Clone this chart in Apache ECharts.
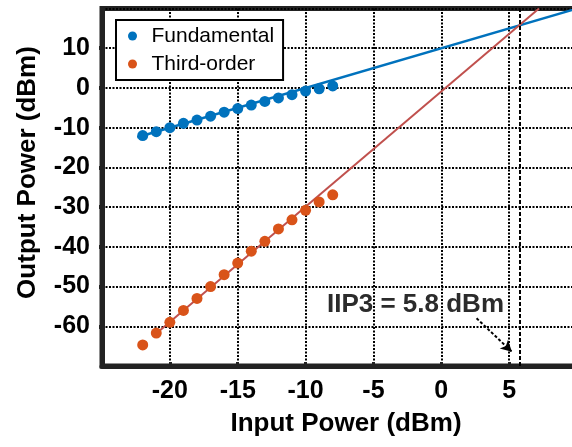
<!DOCTYPE html>
<html>
<head>
<meta charset="utf-8">
<script src="https://cdn.jsdelivr.net/npm/echarts@6/dist/echarts.min.js"></script>
<style>html,body{margin:0;padding:0;background:#fff}#c{width:572px;height:447px}</style>
</head>
<body>
<div id="c"></div>
<script>
var inputPower = [-22, -21, -20, -19, -18, -17, -16, -15, -14, -13, -12, -11, -10, -9, -8];
var fundamental = [-12.0, -11.0, -10.0, -8.9, -8.1, -7.1, -6.1, -5.2, -4.3, -3.4, -2.5, -1.7, -0.8, -0.2, 0.5];
var thirdOrder = [-64.7, -61.7, -59.0, -56.0, -53.0, -50.0, -47.0, -44.1, -41.1, -38.6, -35.5, -33.2, -30.8, -28.7, -26.9];
var fundFitX = [-22.4, 10];
var fundFitY = [-12.4, 20];
var thirdFitX = [-21, 7.2];
var thirdFitY = [-61.8, 20];
var iip3 = 5.8;
var arrowX = [2.6, 5.2];
var arrowY = [-58.0, -66.4];
var labelPos = [-1.9, -54.6];
var xTicks = [-25, -20, -15, -10, -5, 0, 5, 10];
var yTicks = [-70, -60, -50, -40, -30, -20, -10, 0, 10, 20];

function pairs(xs, ys) { return xs.map(function (x, i) { return [x, ys[i]]; }); }

var FONT = '"Liberation Sans", Arial, Helvetica, sans-serif';
var chart = echarts.init(document.getElementById('c'), null, {renderer: 'canvas'});
var option = {
  animation: false,
  backgroundColor: '#fff',
  grid: {left: 102, top: 8.5, right: -5, bottom: 81, show: true, outerBoundsMode: 'none', containLabel: false,
         borderColor: '#222', borderWidth: 5, backgroundColor: '#fff'},
  legend: {
    data: ['Fundamental', 'Third-order'],
    orient: 'vertical', left: 116, top: 20,
    icon: 'circle', itemWidth: 28, itemHeight: 9, itemGap: 6,
    padding: [5, 9, 5, 12],
    borderColor: '#000', borderWidth: 2, backgroundColor: '#fff',
    textStyle: {fontFamily: FONT, fontSize: 21, color: '#000', lineHeight: 22},
    selectedMode: false
  },
  xAxis: {
    type: 'value', min: xTicks[0], max: xTicks[xTicks.length - 1], interval: 5,
    axisLine: {show: true, onZero: false, lineStyle: {color: '#222', width: 5}},
    axisTick: {show: true, inside: true, length: 4, lineStyle: {color: '#222', width: 3}},
    axisLabel: {fontFamily: FONT, fontSize: 25, fontWeight: 'bold', color: '#000', margin: 13,
                showMinLabel: false, showMaxLabel: false},
    splitLine: {show: true, lineStyle: {color: '#000', width: 2, type: [2, 1.5]}}
  },
  yAxis: {
    type: 'value', min: yTicks[0], max: yTicks[yTicks.length - 1], interval: 10,
    axisLine: {show: true, onZero: false, lineStyle: {color: '#222', width: 5}},
    axisTick: {show: true, inside: false, length: 3, lineStyle: {color: '#222', width: 4}},
    axisLabel: {fontFamily: FONT, fontSize: 25, fontWeight: 'bold', color: '#000', margin: 12,
                showMinLabel: false, showMaxLabel: false},
    splitLine: {show: true, lineStyle: {color: '#000', width: 2, type: [2, 1.5]}}
  },
  graphic: [
    {type: 'text', x: 346, y: 424, z: 100,
     style: {text: 'Input Power (dBm)', fontFamily: FONT, fontSize: 26, fontWeight: 'bold', fill: '#000',
             textAlign: 'center', textVerticalAlign: 'middle'}},
    {type: 'text', x: 28, y: 172.5, rotation: Math.PI / 2, z: 100,
     style: {text: 'Output Power (dBm)', fontFamily: FONT, fontSize: 26, fontWeight: 'bold', fill: '#000',
             textAlign: 'center', textVerticalAlign: 'middle'}}
  ],
  series: [
    {
      name: 'fundFit', type: 'line', data: pairs(fundFitX, fundFitY), symbol: 'none', z: 2,
      lineStyle: {color: '#0072BD', width: 2.5}, clip: true, silent: true
    },
    {
      name: 'thirdFit', type: 'line', data: pairs(thirdFitX, thirdFitY), symbol: 'none', z: 2,
      lineStyle: {color: '#C0504D', width: 2}, clip: true, silent: true,
      markLine: {
        silent: true, symbol: ['none', 'none'], label: {show: false},
        lineStyle: {color: '#000', width: 2, type: [4, 2]},
        data: [{xAxis: iip3}]
      }
    },
    {
      name: 'arrow', type: 'line', data: [], z: 3,
      markLine: {
        silent: true, symbol: ['none', 'arrow'], symbolSize: [9, 11], label: {show: false},
        lineStyle: {color: '#000', width: 2, type: [3, 2]},
        data: [[{coord: [arrowX[0], arrowY[0]]}, {coord: [arrowX[1], arrowY[1]]}]]
      },
      markPoint: {
        silent: true, symbol: 'rect', symbolSize: 1, itemStyle: {color: 'transparent'},
        label: {show: true, position: 'inside', formatter: 'IIP3 = ' + iip3 + ' dBm',
                fontFamily: FONT, fontSize: 26, fontWeight: 'bold', color: '#2b2b2b'},
        data: [{coord: labelPos}]
      }
    },
    {
      name: 'Fundamental', type: 'scatter', data: pairs(inputPower, fundamental), z: 5,
      symbol: 'circle', symbolSize: 11, itemStyle: {color: '#0072BD', opacity: 1}
    },
    {
      name: 'Third-order', type: 'scatter', data: pairs(inputPower, thirdOrder), z: 5,
      symbol: 'circle', symbolSize: 11, itemStyle: {color: '#D95319', opacity: 1}
    }
  ]
};
chart.setOption(option);
</script>
</body>
</html>
